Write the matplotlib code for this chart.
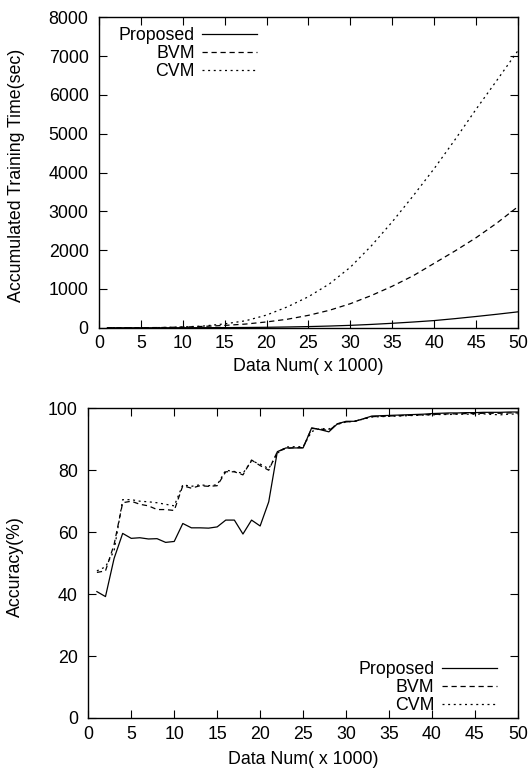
import matplotlib
matplotlib.use("Agg")
import matplotlib.pyplot as plt

plt.rcParams['font.family'] = ['Liberation Sans', 'DejaVu Sans']
plt.rcParams['font.size'] = 12.8

# top chart: accumulated training time (sec)
time_x = [1, 5, 7.5, 10, 12.5, 15, 17.5, 20, 22.5, 25, 27.5, 30, 32.5, 35,
          37.5, 40, 42.5, 45, 47.5, 50]
time_proposed = [0, 0, 0, 1, 2, 4, 7, 12, 20, 30, 44, 62, 86, 115, 148, 185,
                 235, 290, 348, 410]
time_bvm = [0, 2, 6, 18, 35, 60, 95, 150, 220, 320, 450, 620, 830, 1070,
            1340, 1660, 1980, 2320, 2700, 3120]
time_cvm = [0, 1, 5, 20, 45, 100, 180, 327, 540, 800, 1130, 1560, 2110,
            2730, 3400, 4100, 4850, 5630, 6380, 7140]

# bottom chart: accuracy (%)
acc_x = list(range(1, 51))
acc_proposed = [40.8, 39.2, 51.5, 59.6, 58.0, 58.2, 57.8, 57.9, 56.7, 57.0,
                62.8, 61.4, 61.4, 61.3, 61.7, 63.9, 63.9, 59.4, 63.9, 62.0,
                69.8, 86.0, 87.2, 87.2, 87.2, 93.7, 93.1, 92.4, 95.0, 95.8,
                95.8, 96.6, 97.5, 97.6, 97.7, 97.8, 97.9, 98.0, 98.1, 98.3,
                98.4, 98.5, 98.5, 98.6, 98.6, 98.7, 98.7, 98.7, 98.8, 98.8]
acc_bvm = [47.0, 47.5, 56.0, 69.5, 70.0, 69.0, 68.5, 67.3, 67.3, 67.0,
           75.0, 74.2, 75.0, 74.8, 75.0, 79.5, 79.5, 78.5, 83.3, 81.5,
           80.0, 86.0, 87.0, 87.3, 87.3, 93.5, 93.3, 92.8, 95.0, 95.6,
           95.8, 96.6, 97.3, 97.4, 97.5, 97.6, 97.7, 97.8, 97.9, 98.0,
           98.1, 98.2, 98.2, 98.3, 98.3, 98.4, 98.4, 98.4, 98.5, 98.5]
acc_cvm = [47.5, 48.8, 54.0, 70.5, 70.5, 70.0, 69.8, 69.5, 69.0, 68.5,
           75.3, 74.8, 75.3, 75.0, 75.3, 80.0, 79.6, 79.0, 83.0, 82.0,
           80.5, 85.5, 87.5, 87.6, 87.6, 92.5, 93.5, 93.3, 94.8, 95.6,
           95.8, 96.5, 97.2, 97.3, 97.4, 97.5, 97.6, 97.7, 97.8, 97.9,
           98.0, 98.0, 98.1, 98.1, 98.1, 98.2, 98.0, 97.9, 98.1, 98.2]

labels = ["Proposed", "BVM", "CVM"]
styles = [dict(ls='-'), dict(ls=(0, (4.2, 3.0))), dict(ls=(0, (1.6, 2.9)))]

fig = plt.figure(figsize=(5.31, 7.73), dpi=100)
ax1 = fig.add_axes([0.1864, 0.576, 0.789, 0.4016])
ax2 = fig.add_axes([0.1663, 0.0712, 0.809, 0.4006])


def style_axes(ax):
    ax.tick_params(direction='in', length=5.5, width=0.8, top=True, right=True,
                   labelsize=12.8)
    ax.tick_params(axis='x', pad=5.5)
    ax.tick_params(axis='y', pad=7.5)
    for s in ax.spines.values():
        s.set_linewidth(1.0)


leg_kw = dict(frameon=False, markerfirst=False, handlelength=3.1,
              handletextpad=0.4, labelspacing=0.05, borderpad=0,
              borderaxespad=0)

for ys, lab, st in zip([time_proposed, time_bvm, time_cvm], labels, styles):
    ax1.plot(time_x, ys, color='black', lw=0.9, label=lab, **st)
ax1.set_xlim(0, 50)
ax1.set_ylim(0, 8000)
ax1.set_xticks(range(0, 51, 5))
ax1.set_yticks(range(0, 8001, 1000))
ax1.set_xlabel("Data Num( x 1000)", labelpad=4)
ax1.set_ylabel("Accumulated Training Time(sec)")
ax1.yaxis.set_label_coords(-0.177, 0.49)
style_axes(ax1)
ax1.legend(loc='upper right', bbox_to_anchor=(0.377, 0.968), **leg_kw)

for ys, lab, st in zip([acc_proposed, acc_bvm, acc_cvm], labels, styles):
    ax2.plot(acc_x, ys, color='black', lw=0.9, label=lab, **st)
ax2.set_xlim(0, 50)
ax2.set_ylim(0, 100)
ax2.set_xticks(range(0, 51, 5))
ax2.set_yticks(range(0, 101, 20))
ax2.set_xlabel("Data Num( x 1000)", labelpad=6)
ax2.set_ylabel("Accuracy(%)")
ax2.yaxis.set_label_coords(-0.150, 0.49)
style_axes(ax2)
ax2.legend(loc='lower right', bbox_to_anchor=(0.951, 0.013), **leg_kw)

fig.savefig("out.png", dpi=100)
